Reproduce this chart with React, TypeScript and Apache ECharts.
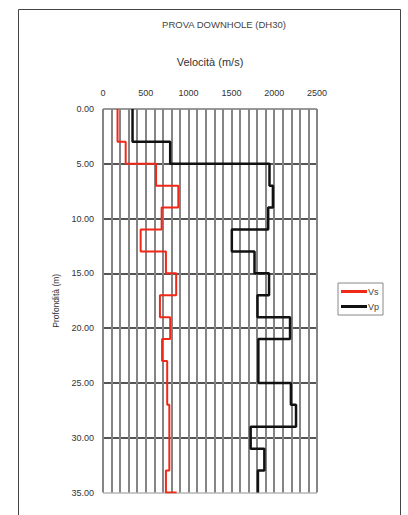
import React, { useEffect, useRef } from "react";
import * as echarts from "echarts";

const title = "PROVA DOWNHOLE (DH30)";
const xName = "Velocità (m/s)";
const yName = "Profondità (m)";
const depthMin = 0;
const depthMax = 35;
const velMin = 0;
const velMax = 2500;

// Vs layers: top depth (m) and velocity (m/s)
const vsTops = [0, 3, 5, 7, 9, 11, 13, 15, 17, 19, 21, 23, 27, 33];
const vsValues = [170, 265, 620, 880, 685, 440, 735, 855, 665, 785, 690, 750, 775, 735];
const vsBottomStub = 860;

// Vp layers
const vpTops = [0, 3, 5, 7, 9, 11, 13, 15, 17, 19, 21, 25, 27, 29, 31, 33];
const vpValues = [345, 785, 1945, 1985, 1930, 1505, 1770, 1940, 1805, 2185, 1815, 2195, 2255, 1725, 1885, 1810];

function profile(tops: number[], values: number[], stub?: number) {
  const pts: number[][] = [];
  for (let i = 0; i < tops.length; i++) {
    const bottom = i + 1 < tops.length ? tops[i + 1] : depthMax;
    pts.push([values[i], tops[i]]);
    pts.push([values[i], bottom]);
  }
  if (stub !== undefined) pts.push([stub, depthMax]);
  return pts;
}

export default function App() {
  const ref = useRef<HTMLDivElement>(null);
  useEffect(() => {
    if (!ref.current) return;
    const chart = echarts.init(ref.current, null, { renderer: "svg" });
    const font = "'Liberation Sans', Arial, sans-serif";
    const hColors = ["#999", "#555", "#555", "#555", "#555", "#555", "#555", "#c8c8c8"];
    chart.setOption({
      animation: false,
      backgroundColor: "#fff",
      textStyle: { fontFamily: font },
      title: {
        text: title,
        left: 219,
        top: 14,
        textAlign: "center",
        textStyle: { fontSize: 9.5, fontWeight: "normal", color: "#444", fontFamily: font },
      },
      graphic: [
        {
          type: "rect",
          shape: { x: 18.5, y: 9.5, width: 382, height: 520 },
          style: { fill: "none", stroke: "#444", lineWidth: 1 },
          silent: true,
        },
      ],
      legend: {
        orient: "vertical",
        left: 338,
        top: 283,
        padding: [4, 4, 4, 3],
        itemGap: 6,
        itemWidth: 26,
        itemHeight: 3,
        icon: "rect",
        borderColor: "#888",
        borderWidth: 1,
        textStyle: { fontSize: 9, color: "#444", padding: [0, 0, 0, -4], fontFamily: font },
        data: ["Vs", "Vp"],
      },
      grid: { left: 103, right: 91, top: 109, bottom: 22.5 },
      xAxis: {
        type: "value",
        position: "top",
        min: velMin,
        max: velMax,
        interval: 100,
        name: xName,
        nameLocation: "middle",
        nameGap: 42,
        nameTextStyle: { fontSize: 11, color: "#333", fontFamily: font },
        axisLine: { show: false },
        axisTick: { show: false },
        axisLabel: {
          fontSize: 9,
          color: "#333",
          margin: 12,
          formatter: (v: number) => (v % 500 === 0 ? String(v) : ""),
        },
        splitLine: { show: true, lineStyle: { color: "#858585", width: 2 } },
      },
      yAxis: {
        type: "value",
        inverse: true,
        min: depthMin,
        max: depthMax,
        interval: 5,
        name: yName,
        nameLocation: "middle",
        nameGap: 40,
        nameTextStyle: { fontSize: 8.5, color: "#333", fontFamily: font },
        axisLine: { show: false },
        axisTick: { show: false },
        axisLabel: {
          fontSize: 9,
          color: "#333",
          margin: 9,
          formatter: (v: number) => v.toFixed(2),
        },
        splitLine: { show: true, lineStyle: { color: hColors, width: 2 } },
      },
      series: [
        {
          name: "Vs",
          type: "line",
          data: profile(vsTops, vsValues, vsBottomStub),
          showSymbol: false,
          lineStyle: { color: "#f02818", width: 2 },
          itemStyle: { color: "#f02818" },
          z: 4,
        },
        {
          name: "Vp",
          type: "line",
          data: profile(vpTops, vpValues),
          showSymbol: false,
          lineStyle: { color: "#111", width: 2.5 },
          itemStyle: { color: "#111" },
          z: 3,
        },
      ],
    });
    return () => chart.dispose();
  }, []);
  return (
    <div
      ref={ref}
      style={{ position: "fixed", left: 0, top: 0, width: 408, height: 515, background: "#fff" }}
    />
  );
}
